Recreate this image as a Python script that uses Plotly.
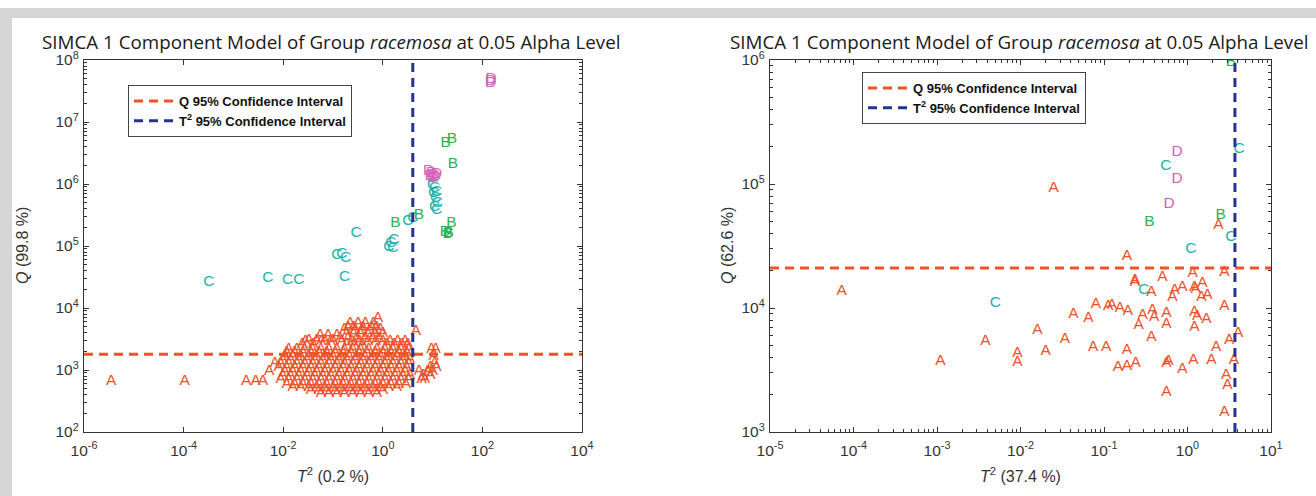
import plotly.graph_objects as go

W, H = 1316, 496

# ---------------- DATA: left panel (T2 0.2 %, Q 99.8 %) ----------------
L_A_rows = [
    (6900, [0.8]),
    (5600, [0.22, 0.32, 0.45, 0.65]),
    (5000, [0.2, 0.26, 0.4, 0.6, 0.75]),
    (4600, [0.17, 0.28, 0.38, 0.55, 0.9]),
    (4300, [4.6]),
    (3900, [0.19, 0.26, 0.36, 0.5, 0.7, 1.0]),
    (3700, [0.055, 0.08, 0.12]),
    (3300, [0.14, 0.2, 0.3, 0.43, 0.62, 0.85]),
    (3000, [0.033, 0.047, 0.068, 0.1]),
    (2900, [0.028, 0.058, 0.09, 0.15, 0.24, 0.34, 0.5, 0.72, 1.0, 1.4, 2.0, 2.8]),
    (2600, [0.024, 0.04, 0.19, 0.27, 0.39, 1.2, 1.7, 2.4, 3.2]),
    (2200, [0.0129, 0.0188, 0.027, 0.039, 0.057, 0.083, 0.12, 0.17, 0.25, 0.36,
            0.52, 0.76, 1.1, 1.6, 2.3, 3.3, 9.5, 11.5]),
    (1950, [0.0118, 0.017, 0.025, 0.036, 0.052, 0.075, 0.11, 0.16, 0.23, 0.33,
            0.48, 0.7, 1.0, 1.45, 2.1, 3.0]),
    (1700, [0.0107, 0.0155, 0.0225, 0.033, 0.047, 0.068, 0.1, 0.145, 0.21, 0.3,
            0.43, 0.63, 0.9, 1.3, 1.9, 2.8, 10.5]),
    (1500, [0.0098, 0.014, 0.0205, 0.03, 0.043, 0.062, 0.09, 0.13, 0.19, 0.28,
            0.4, 0.58, 0.84, 1.2, 1.75, 2.5, 3.5]),
    (1300, [0.0068, 0.0089, 0.0129, 0.0188, 0.027, 0.039, 0.057, 0.083, 0.12, 0.17,
            0.25, 0.36, 0.52, 0.76, 1.1, 1.6, 2.3, 3.3, 11]),
    (1100, [0.0081, 0.0118, 0.017, 0.025, 0.036, 0.052, 0.075, 0.11, 0.16, 0.23,
            0.33, 0.48, 0.7, 1.0, 1.45, 2.1, 3.0, 9, 12]),
    (950, [0.0052, 0.0107, 0.0155, 0.0225, 0.033, 0.047, 0.068, 0.1, 0.145, 0.21,
           0.3, 0.43, 0.63, 0.9, 1.3, 1.9, 2.8, 5.3, 8, 10]),
    (820, [0.0098, 0.014, 0.0205, 0.03, 0.043, 0.062, 0.09, 0.13, 0.19, 0.28,
           0.4, 0.58, 0.84, 1.2, 1.75, 2.5, 3.5, 6.5, 9]),
    (700, [0.0089, 0.0129, 0.0188, 0.027, 0.039, 0.057, 0.083, 0.12, 0.17, 0.25,
           0.36, 0.52, 0.76, 1.1, 1.6, 2.3, 3.3, 6, 7]),
    (650, [3.5e-6, 1.05e-4, 0.0018, 0.0028, 0.0039]),
    (600, [0.0118, 0.017, 0.025, 0.036, 0.052, 0.075, 0.11, 0.16, 0.23, 0.33,
           0.48, 0.7, 1.0, 1.45, 2.1, 2.9]),
    (520, [0.0155, 0.0225, 0.033, 0.047, 0.068, 0.1, 0.145, 0.21, 0.3, 0.43,
           0.63, 0.9, 1.3, 1.9]),
    (470, [0.036, 0.052, 0.075, 0.11, 0.16, 0.23, 0.33, 0.48, 0.7, 1.0]),
    (420, [0.057, 0.083, 0.12, 0.17, 0.25, 0.36, 0.52, 0.76]),
]
L_B_x = [18.4, 24.3, 25.5, 1.8, 5.3, 24, 17.6, 20, 21]
L_B_y = [4.5e6, 5.2e6, 2.1e6, 2.3e5, 3.2e5, 2.3e5, 1.7e5, 1.55e5, 1.6e5]
L_C_x = [3.2e-4, 4.9e-3, 0.0123, 0.0205, 0.17, 0.12, 0.15, 0.18, 0.29,
         1.32, 1.45, 1.66, 1.59, 3.2, 4.0,
         10, 11, 12, 10.5, 11.5, 12.5, 11, 12]
L_C_y = [2.6e4, 3.0e4, 2.8e4, 2.8e4, 3.1e4, 7.2e4, 7.4e4, 6.4e4, 1.6e5,
         9.6e4, 1.1e5, 1.25e5, 9.3e4, 2.5e5, 2.8e5,
         9.5e5, 8.5e5, 7.5e5, 7e5, 6e5, 5e5, 4.3e5, 3.8e5]
L_D_x = [145, 150, 148, 8.3, 9.5, 10.5, 11.5, 10, 12, 9]
L_D_y = [4.6e7, 4.9e7, 4.3e7, 1.6e6, 1.5e6, 1.4e6, 1.3e6, 1.25e6, 1.45e6, 1.35e6]
L_Q_LIMIT = 1800
L_T2_LIMIT = 4.0
L_XRANGE = [1e-6, 1e4]
L_YRANGE = [1e2, 1e8]
L_XTICKS = [1e-6, 1e-4, 1e-2, 1, 1e2, 1e4]
L_XTEXT = ["10<sup>-6</sup>", "10<sup>-4</sup>", "10<sup>-2</sup>", "10<sup>0</sup>",
           "10<sup>2</sup>", "10<sup>4</sup>"]
L_YTICKS = [1e2, 1e3, 1e4, 1e5, 1e6, 1e7, 1e8]
L_YTEXT = ["10<sup>2</sup>", "10<sup>3</sup>", "10<sup>4</sup>", "10<sup>5</sup>",
           "10<sup>6</sup>", "10<sup>7</sup>", "10<sup>8</sup>"]

# ---------------- DATA: right panel (T2 37.4 %, Q 62.6 %) ----------------
R_A_x = [7.2e-5, 1.1e-3, 3.8e-3, 9.2e-3, 9.2e-3, 0.016, 0.020, 0.025, 0.034, 0.043,
         0.065, 0.074, 0.080, 0.106, 0.112, 0.124, 0.147, 0.155, 0.188, 0.188,
         0.188, 0.193, 0.234, 0.234, 0.24, 0.26, 0.29, 0.37, 0.37, 0.38,
         0.40, 0.50, 0.56, 0.56, 0.56, 0.59, 0.56, 0.66, 0.70, 0.87,
         0.87, 1.15, 1.18, 1.21, 1.25, 1.21, 1.31, 1.21, 1.47, 1.51,
         1.68, 1.73, 1.93, 2.2, 2.34, 2.76, 2.76, 2.76, 2.9, 3.0,
         3.16, 3.6, 4.05]
R_A_y = [1.37e4, 3.7e3, 5.4e3, 4.3e3, 3.65e3, 6.6e3, 4.5e3, 9.3e4, 5.6e3, 8.9e3,
         8.3e3, 4.8e3, 1.08e4, 4.8e3, 1.04e4, 1.06e4, 3.35e3, 1.0e4, 2.6e4, 4.6e3,
         3.4e3, 9.4e3, 1.68e4, 1.62e4, 3.6e3, 7.3e3, 8.8e3, 1.35e4, 5.8e3, 9.6e3,
         8.5e3, 1.78e4, 9.1e3, 7.4e3, 3.6e3, 3.7e3, 2.1e3, 1.23e4, 1.4e4, 1.48e4,
         3.2e3, 1.9e4, 3.8e3, 1.48e4, 1.43e4, 9.3e3, 8.6e3, 7e3, 1.23e4, 1.6e4,
         8.1e3, 1.27e4, 3.8e3, 4.8e3, 4.7e4, 1.95e4, 1.04e4, 1.45e3, 2.9e3, 2.4e3,
         5.5e3, 3.8e3, 6.3e3]
R_B_x = [3.3, 2.5, 0.35]
R_B_y = [9.6e5, 5.6e4, 4.9e4]
R_C_x = [0.55, 4.15, 3.3, 1.1, 0.30, 5.0e-3]
R_C_y = [1.4e5, 1.9e5, 3.7e4, 3.0e4, 1.4e4, 1.1e4]
R_D_x = [0.75, 0.75, 0.6]
R_D_y = [1.8e5, 1.1e5, 6.9e4]
R_Q_LIMIT = 2.1e4
R_T2_LIMIT = 3.7
R_XRANGE = [1e-5, 1e1]
R_YRANGE = [1e3, 1e6]
R_XTICKS = [1e-5, 1e-4, 1e-3, 1e-2, 1e-1, 1, 1e1]
R_XTEXT = ["10<sup>-5</sup>", "10<sup>-4</sup>", "10<sup>-3</sup>", "10<sup>-2</sup>",
           "10<sup>-1</sup>", "10<sup>0</sup>", "10<sup>1</sup>"]
R_YTICKS = [1e3, 1e4, 1e5, 1e6]
R_YTEXT = ["10<sup>3</sup>", "10<sup>4</sup>", "10<sup>5</sup>", "10<sup>6</sup>"]

TITLE = "SIMCA 1 Component Model of Group <i>racemosa</i> at 0.05 Alpha Level"
LEG_Q = "Q 95% Confidence Interval"
LEG_T = "T<sup>2</sup> 95% Confidence Interval"

# ---------------- STYLE ----------------
COL = {"A": "#f0522a", "B": "#2eb04e", "C": "#1fb2ab", "D": "#d462b4"}
Q_COL = "#f0522a"
T_COL = "#26338f"
AX_COL = "#333333"
SANS = "Liberation Sans, Arial, sans-serif"


def px_x(p):
    return p / W


def px_y(p):
    return 1 - p / H


fig = go.Figure()


def letters(xs, ys, ch, xa, ya):
    fig.add_trace(go.Scatter(
        x=xs, y=ys, mode="text", text=[ch] * len(xs),
        textfont=dict(color=COL[ch], size=15.5, family=SANS),
        textposition="middle center", showlegend=False, hoverinfo="skip",
        xaxis=xa, yaxis=ya, cliponaxis=True))


# left panel letters
LAx, LAy = [], []
for yv, xs in L_A_rows:
    for xv in xs:
        LAx.append(xv)
        LAy.append(yv)
letters(LAx, LAy, "A", "x", "y")
letters(L_C_x, L_C_y, "C", "x", "y")
letters(L_B_x, L_B_y, "B", "x", "y")
letters(L_D_x, L_D_y, "D", "x", "y")

# right panel letters
letters(R_A_x, R_A_y, "A", "x2", "y2")
letters(R_B_x, R_B_y, "B", "x2", "y2")
letters(R_C_x, R_C_y, "C", "x2", "y2")
letters(R_D_x, R_D_y, "D", "x2", "y2")

# confidence limit lines
for xa, ya, q, t2, xr, yr, leg in [("x", "y", L_Q_LIMIT, L_T2_LIMIT, L_XRANGE, L_YRANGE, "legend"),
                                    ("x2", "y2", R_Q_LIMIT, R_T2_LIMIT, R_XRANGE, R_YRANGE, "legend2")]:
    fig.add_trace(go.Scatter(x=xr, y=[q, q], mode="lines", name=LEG_Q,
                             line=dict(color=Q_COL, width=3, dash="9px,6px"),
                             xaxis=xa, yaxis=ya, legend=leg, hoverinfo="skip"))
    fig.add_trace(go.Scatter(x=[t2, t2], y=yr, mode="lines", name=LEG_T,
                             line=dict(color=T_COL, width=3, dash="9px,6px"),
                             xaxis=xa, yaxis=ya, legend=leg, hoverinfo="skip"))


def log_axis(dom, rng, tv, tt, anchor, minor, standoff):
    d = dict(type="log", domain=dom, range=rng, tickvals=tv, ticktext=tt,
             anchor=anchor, showgrid=False, zeroline=False, showline=True,
             linecolor=AX_COL, linewidth=1.3, mirror="ticks", ticks="inside",
             ticklen=5, tickcolor=AX_COL, ticklabelstandoff=standoff,
             tickfont=dict(family=SANS, size=15.5, color="#333333"),
             automargin=False)
    if minor:
        d["minor"] = dict(ticks="inside", ticklen=3, tickcolor=AX_COL, dtick="D1", showgrid=False)
    return d


L_XDOM = [px_x(84), px_x(582)]
R_XDOM = [px_x(770), px_x(1271)]
YDOM = [px_y(432), px_y(60)]

leg_common = dict(xanchor="left", yanchor="top", bgcolor="white",
                  bordercolor="#444444", borderwidth=1,
                  font=dict(family=SANS, size=13, color="#111111", weight="bold"),
                  tracegroupgap=0, itemwidth=40)

fig.update_layout(
    width=W, height=H,
    margin=dict(l=0, r=0, t=0, b=0),
    paper_bgcolor="white", plot_bgcolor="white",
    xaxis=log_axis(L_XDOM, [-6, 4], L_XTICKS, L_XTEXT, "y", False, 4),
    yaxis=log_axis(YDOM, [2, 8], L_YTICKS, L_YTEXT, "x", True, 1),
    xaxis2=log_axis(R_XDOM, [-5, 1], R_XTICKS, R_XTEXT, "y2", True, 4),
    yaxis2=log_axis(YDOM, [3, 6], R_YTICKS, R_YTEXT, "x2", True, 1),
    legend=dict(x=px_x(128), y=px_y(85), **leg_common),
    legend2=dict(x=px_x(862), y=px_y(72), **leg_common),
    shapes=[
        dict(type="rect", xref="paper", yref="paper", x0=0, x1=1, y0=px_y(18), y1=px_y(8),
             fillcolor="#d6d6d6", line=dict(width=0), layer="below"),
        dict(type="rect", xref="paper", yref="paper", x0=0, x1=px_x(12), y0=0, y1=px_y(8),
             fillcolor="#d6d6d6", line=dict(width=0), layer="below"),
    ],
)

ann_font = dict(family="Open Sans, Liberation Sans, sans-serif", size=18.8, color="#1a1a1a")
lab_font = dict(family=SANS, size=16, color="#333333")
annotations = [
    dict(text=TITLE, x=px_x(331), y=px_y(42), xref="paper", yref="paper",
         showarrow=False, font=ann_font, xanchor="center", yanchor="middle"),
    dict(text=TITLE, x=px_x(1019), y=px_y(42), xref="paper", yref="paper",
         showarrow=False, font=ann_font, xanchor="center", yanchor="middle"),
    dict(text="<i>T</i><sup>2</sup> (0.2 %)", x=px_x(333), y=px_y(475), xref="paper", yref="paper",
         showarrow=False, font=lab_font, xanchor="center", yanchor="middle"),
    dict(text="<i>T</i><sup>2</sup> (37.4 %)", x=px_x(1020), y=px_y(475), xref="paper", yref="paper",
         showarrow=False, font=lab_font, xanchor="center", yanchor="middle"),
    dict(text="<i>Q</i> (99.8 %)", x=px_x(22), y=px_y(246), xref="paper", yref="paper",
         showarrow=False, font=lab_font, textangle=-90, xanchor="center", yanchor="middle"),
    dict(text="<i>Q</i> (62.6 %)", x=px_x(727), y=px_y(246), xref="paper", yref="paper",
         showarrow=False, font=lab_font, textangle=-90, xanchor="center", yanchor="middle"),
]
fig.update_layout(annotations=annotations)

fig.write_html("out.html")
